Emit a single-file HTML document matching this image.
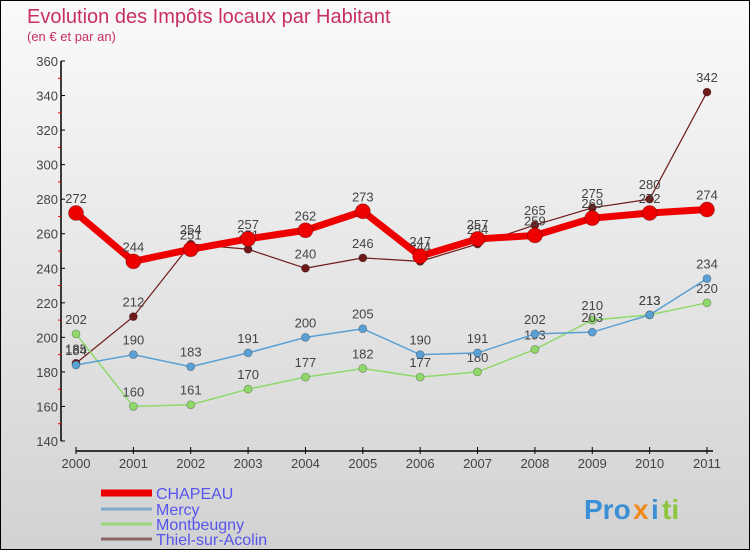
<!DOCTYPE html>
<html><head><meta charset="utf-8"><style>
html,body{margin:0;padding:0}
body{width:750px;height:550px;overflow:hidden;font-family:"Liberation Sans",sans-serif}
#wrap{position:relative;width:748px;height:548px;border:1px solid #000;background:linear-gradient(#fafafa,#d2d2d2)}
svg{position:absolute;left:0;top:0}
</style></head><body>
<div id="wrap">
<svg id="chart" width="750" height="550">
<text x="26" y="22" font-size="20" fill="#c8305f">Evolution des Impôts locaux par Habitant</text>
<text x="26" y="40" font-size="13" fill="#c8305f">(en € et par an)</text>
<g id="axes"></g>
<g id="series"></g>
<g id="legend"></g>
<g font-size="28" font-weight="bold">
<text x="583" y="518" fill="#3a8fd6">Pro</text><text x="632" y="518" fill="#f08a1c">x</text><text x="650" y="518" fill="#3a8fd6">i</text><text x="661" y="518" fill="#8cc63f">ti</text>
</g>
</svg>
</div>
<script>
const years=["2000","2001","2002","2003","2004","2005","2006","2007","2008","2009","2010","2011"];
const chapeau=[272,244,251,257,262,273,247,257,259,269,272,274];
const mercy=[184,190,183,191,200,205,190,191,202,203,213,234];
const montbeugny=[202,160,161,170,177,182,177,180,193,210,213,220];
const thiel=[185,212,254,251,240,246,244,254,265,275,280,342];
const yTicks=[140,160,180,200,220,240,260,280,300,320,340,360];
const NS="http://www.w3.org/2000/svg";
const xs=i=>75+i*(631/11);
const ys=v=>440-(v-140)*(380/220);
function mk(tag,attrs,parent){const e=document.createElementNS(NS,tag);for(const k in attrs)e.setAttribute(k,attrs[k]);parent.appendChild(e);return e;}
const axes=document.getElementById('axes');
let a=mk('line',{x1:60,y1:60,x2:60,y2:440,stroke:'#000','stroke-width':1.5},axes);


yTicks.forEach(v=>{
 mk('line',{x1:60,y1:ys(v),x2:64,y2:ys(v),stroke:'#000'},axes);
 const t=mk('text',{x:57,y:ys(v)+5,'font-size':13,fill:'#444','text-anchor':'end'},axes);
 t.textContent=v;
 
 
 if(v<360) mk('line',{x1:57,y1:ys(v+10),x2:60,y2:ys(v+10),stroke:'#e00'},axes);
});
let b=mk('line',{x1:75,y1:450,x2:712,y2:450,stroke:'#000','stroke-width':1.5},axes);


years.forEach((y,i)=>{
 mk('line',{x1:xs(i),y1:446,x2:xs(i),y2:453,stroke:'#000'},axes);
 const t=mk('text',{x:xs(i),y:467,'font-size':13,fill:'#444','text-anchor':'middle'},axes);
 t.textContent=y;
 
 
});
const ser=document.getElementById('series');
const defs=[
 {name:'Thiel-sur-Acolin',data:thiel,color:'#6e1a1a',w:1.2,r:4},
 {name:'Montbeugny',data:montbeugny,color:'#8fd96a',w:1.5,r:4},
 {name:'Mercy',data:mercy,color:'#5aa0d4',w:1.5,r:4},
 {name:'CHAPEAU',data:chapeau,color:'#ee0000',w:7,r:7.5}
];
defs.forEach(s=>{
 const g=mk('g',{},ser);
 
 
 const pts=s.data.map((v,i)=>xs(i)+','+ys(v)).join(' ');
 const l=mk('polyline',{points:pts,fill:'none',stroke:s.color,'stroke-width':s.w},g);
 
 
 s.data.forEach((v,i)=>{
  const c=mk('circle',{cx:xs(i),cy:ys(v),r:s.r,fill:s.color,stroke:'rgba(0,0,0,0.3)','stroke-width':0.8},g);
  
  
  const t=mk('text',{x:xs(i),y:ys(v)-10,'font-size':13,fill:'#444','text-anchor':'middle'},g);
  t.textContent=v;
  
  
 });
});
const leg=document.getElementById('legend');
const ld=[['CHAPEAU','#ee0000',7,492],['Mercy','#7fa9c8',3,508],['Montbeugny','#9ad67a',3,523],['Thiel-sur-Acolin','#8c6666',3,538]];
ld.forEach(d=>{
 const g=mk('g',{},leg);
 
 
 mk('line',{x1:100,y1:d[3],x2:151,y2:d[3],stroke:d[1],'stroke-width':d[2]},g);
 const t=mk('text',{x:155,y:d[3]+6,'font-size':16,fill:'#5555ee'},g);
 t.textContent=d[0];
});
</script>
</body></html>
